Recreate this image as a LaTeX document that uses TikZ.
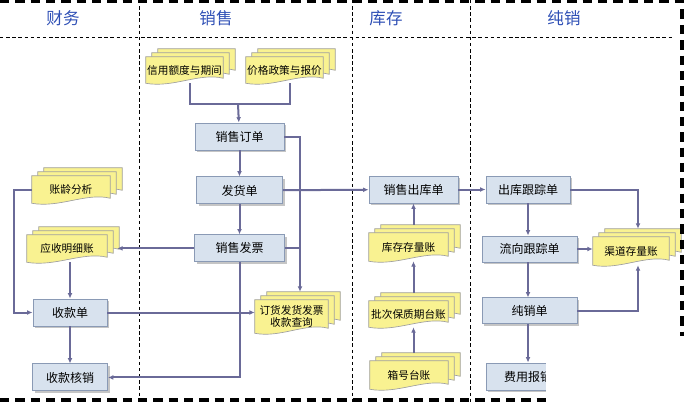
\documentclass[tikz,border=0pt]{standalone}
\usepackage{fontspec}
\newfontfamily\cjk{Noto Sans CJK SC}
\usetikzlibrary{arrows.meta, positioning, calc, backgrounds, shadows}
\definecolor{formfill}{HTML}{D8E2EE}
\definecolor{formdraw}{HTML}{8A9AB5}
\definecolor{sheetfill}{HTML}{F9F291}
\definecolor{sheetdraw}{HTML}{A0A0A0}
\definecolor{wire}{HTML}{6A6A98}
\definecolor{lanetext}{HTML}{2E4FB5}
\tikzset{
  form/.style    = {rectangle, draw=formdraw, line width=0.7pt, fill=formfill,
                    font=\cjk\fontsize{9}{10}\selectfont, inner sep=0pt,
                    minimum height=20.25pt,
                    drop shadow={shadow xshift=1.6pt, shadow yshift=-1.6pt, fill=black!45}},
  ledger/.style  = {rectangle, inner sep=0pt, align=center,
                    font=\cjk\fontsize{8}{9.5}\selectfont},
  sheet/.style   = {draw=sheetdraw, line width=0.5pt, fill=sheetfill},
  lane/.style    = {font=\cjk\fontsize{12.4}{14}\selectfont, text=lanetext},
  flow/.style    = {-{Latex[length=4pt, width=3.6pt]}, line width=1.5pt, draw=wire},
  joint/.style   = {line width=1.5pt, draw=wire},
  divider/.style = {line width=0.7pt, dash pattern=on 2.6pt off 2pt},
  frame/.style   = {line width=2.4pt, dash pattern=on 7pt off 4.5pt},
}
% three stacked sheets behind a ledger node
\newcommand{\sheets}[1]{%
  \begin{scope}[on background layer]
  \foreach \k in {2,1,0}{
    \draw[sheet] ($(#1.north west)+(6*\k,-4*\k)$) -- ($(#1.north east)+(6*\k,-4*\k)$)
      -- ($(#1.south east)+(6*\k,-4*\k-5)$)
      .. controls ($(#1.south east)!0.3!(#1.south west)+(6*\k,-4*\k-11)$)
      and ($(#1.south west)!0.35!(#1.south east)+(6*\k,-4*\k+5)$)
      .. ($(#1.south west)+(6*\k,-4*\k)$) -- cycle;
  }
  \end{scope}}

\begin{document}
\begin{tikzpicture}[x=0.75pt, y=-0.75pt]
  \useasboundingbox (0,0) rectangle (684,403);

  \begin{scope}[on background layer]
    \draw[divider] (0,37) -- (672,37);
    \draw[divider] (139,0) -- (139,403);
    \draw[divider] (352,0) -- (352,403);
    \draw[divider] (470,0) -- (470,403);
  \end{scope}

  % lanes
  \node[lane] (fin) at (63,18) {财务};
  \node[lane] (sale) at (216,18) {销售};
  \node[lane] (inv) at (386,18) {库存};
  \node[lane] (net) at (564,18) {纯销};

  % forms
  \node[form, minimum width=66.75pt] (order) at (239.5,136.5) {销售订单};
  \node[form, minimum width=64.5pt, below=19.5pt of order] (ship) {发货单};
  \node[form, minimum width=67.5pt, below=22.5pt of ship] (invoice) {销售发票};
  \node[form, minimum width=55.5pt] (receipt) at (70,312.5) {收款单};
  \node[form, minimum width=56.25pt, below=27.75pt of receipt] (writeoff) {收款核销};
  \node[form, minimum width=66.75pt] (outstock) at (413.5,189.5) {销售出库单};
  \node[form, minimum width=63pt] (track) at (528,189.5) {出库跟踪单};
  \node[form, minimum width=71.25pt, minimum height=19.5pt] (trace) at (529.5,249) {流向跟踪单};
  \node[form, minimum width=71.25pt, minimum height=19.5pt, below=26.25pt of trace] (netsale) {纯销单};
  \node[form, minimum width=63pt] (expense) at (528,376.5) {费用报销};

  % ledgers
  \node[ledger, minimum width=57.75pt, minimum height=19.5pt] (cred) at (184.5,70) {信用额度与期间};
  \node[ledger, minimum width=57.75pt, minimum height=19.5pt] (price) at (284.5,70) {价格政策与报价};
  \node[ledger, minimum width=58.5pt, minimum height=20.25pt] (aging) at (71,189.5) {账龄分析};
  \node[ledger, minimum width=60pt, minimum height=20.25pt] (recv) at (67,248.5) {应收明细账};
  \node[ledger, minimum width=54.75pt, minimum height=24.75pt] (query) at (291.5,316.5) {订货发货发票\\收款查询};
  \node[ledger, minimum width=59.25pt, minimum height=21pt] (stock) at (408.5,247) {库存存量账};
  \node[ledger, minimum width=59.25pt, minimum height=19.5pt] (batch) at (408.5,314) {批次保质期台账};
  \node[ledger, minimum width=58.5pt, minimum height=21pt] (box) at (409,375) {箱号台账};
  \node[ledger, minimum width=57pt, minimum height=21pt] (channel) at (631,251) {渠道存量账};
  \foreach \n in {cred, price, aging, recv, query, stock, batch, box, channel}
    \sheets{\n};

  % connectors
  \coordinate (merge) at (238,104);
  \coordinate (qtop) at ($(query.north)+(8.5,-8)$);
  \draw[joint] ($(cred.south)+(5,0)$) |- (merge) -| ($(price.south)+(5,0)$);
  \draw[flow] (merge) -- (order);
  \draw[flow] (order) -- (ship);
  \draw[flow] (ship) -- (invoice);
  \draw[flow] (order.east) -| (qtop);
  \draw[joint] (invoice.east) -- (invoice.east -| qtop);
  \draw[flow] (ship) -- (outstock);
  \draw[flow] (invoice.west) -- ($(invoice.west -| recv.east)+(10,0)$);
  \draw[flow] (invoice.south) |- (writeoff.east);
  \draw[flow] (aging.west) -- ++(-18,0) |- (receipt.west);
  \draw[flow] (recv.south -| receipt.north) -- (receipt.north);
  \draw[flow] (receipt.east) -- (receipt.east -| query.west);
  \draw[flow] (receipt) -- (writeoff);
  \draw[flow] ($(stock.north)+(5,-8)$) -- (outstock.south);
  \draw[flow] ($(batch.north)+(5,-8)$) -- ($(stock.south)+(5,0)$);
  \draw[flow] ($(box.north)+(4.5,-8)$) -- ($(batch.south)+(5,0)$);
  \draw[flow] (outstock) -- (track);
  \draw[flow] (track.east) -| ($(channel.north)+(7,-8)$);
  \draw[flow] (track.south) -- (track.south |- trace.north);
  \draw[flow] (trace.east) -- (trace.east -| channel.west);
  \draw[flow] (track.south |- trace.south) -- (track.south |- netsale.north);
  \draw[flow] (netsale.east) -| ($(channel.south)+(7,0)$);
  \draw[flow] (track.south |- netsale.south) -- (expense.north);

  % outer frame
  \draw[frame] (0,1.5) -- (682,1.5) -- (682,403);
  \draw[frame] (0,400) -- (682,400);
  \fill[white] (546,336) rectangle (684,403);
\end{tikzpicture}
\end{document}
